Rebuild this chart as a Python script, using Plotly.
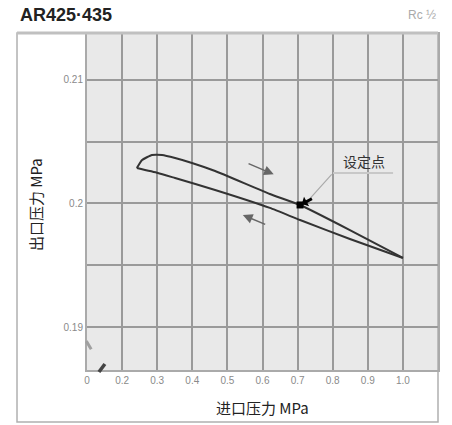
import plotly.graph_objects as go

# ---- data ----
upper_x = [0.242, 0.257, 0.285, 0.314, 0.351, 0.399, 0.465, 0.621, 0.707, 0.849, 1.0]
upper_y = [0.20287, 0.20352, 0.20393, 0.20393, 0.20368, 0.20328, 0.20263, 0.20077, 0.19988, 0.19785, 0.19559]
lower_x = [0.242, 0.302, 0.351, 0.465, 0.621, 0.707, 0.849, 1.0]
lower_y = [0.20287, 0.20247, 0.20206, 0.20109, 0.19964, 0.19866, 0.19713, 0.19559]
set_point = (0.707, 0.19988)

x_tickvals = [0.1, 0.2, 0.3, 0.4, 0.5, 0.6, 0.7, 0.8, 0.9, 1.0]
x_ticktext = ["0", "0.2", "0.3", "0.4", "0.5", "0.6", "0.7", "0.8", "0.9", "1.0"]
y_tickvals = [0.19, 0.195, 0.2, 0.205, 0.21]
y_ticktext = ["0.19", "", "0.2", "", "0.21"]

title_text = "AR425·435"
port_text = "Rc ½"
x_title = "进口压力 MPa"
y_title = "出口压力 MPa"
set_label = "设定点"

CJK = "Noto Sans CJK SC"
LINE = "#333333"
GRID = "#9a9a9a"

fig = go.Figure()
fig.add_trace(go.Scatter(x=upper_x, y=upper_y, mode="lines",
                         line=dict(color=LINE, width=2, shape="spline", smoothing=0.4),
                         hoverinfo="skip", showlegend=False))
fig.add_trace(go.Scatter(x=lower_x, y=lower_y, mode="lines",
                         line=dict(color=LINE, width=2, shape="spline", smoothing=0.4),
                         hoverinfo="skip", showlegend=False))
fig.add_trace(go.Scatter(x=[set_point[0]], y=[set_point[1]], mode="markers",
                         marker=dict(color="#000", size=7, symbol="square"),
                         hoverinfo="skip", showlegend=False))

ann = []
# set point label & leader
ann.append(dict(x=0.889, y=0.20344, xref="x", yref="y", text=set_label, showarrow=False,
                font=dict(family=CJK, size=14, color="#333")))
ann.append(dict(x=0.735, y=0.2004, ax=0.801, ay=0.20247, xref="x", yref="y", axref="x", ayref="y",
                text="", showarrow=True, arrowhead=0, arrowwidth=1.2, arrowcolor="#aaaaaa"))
ann.append(dict(x=0.712, y=0.19995, ax=0.745, ay=0.20045, xref="x", yref="y", axref="x", ayref="y",
                text="", showarrow=True, arrowhead=1, arrowsize=0.6, arrowwidth=3, arrowcolor="#000"))
# direction arrows
ann.append(dict(x=0.632, y=0.20236, ax=0.556, ay=0.20328, xref="x", yref="y", axref="x", ayref="y",
                text="", showarrow=True, arrowhead=2, arrowsize=1.3, arrowwidth=1.5, arrowcolor="#666666"))
ann.append(dict(x=0.544, y=0.19907, ax=0.612, ay=0.19826, xref="x", yref="y", axref="x", ayref="y",
                text="", showarrow=True, arrowhead=2, arrowsize=1.3, arrowwidth=1.5, arrowcolor="#666666"))
# titles
ann.append(dict(x=-0.1966, y=1.058, xref="paper", yref="paper", xanchor="left", yanchor="middle",
                text="<b>%s</b>" % title_text, showarrow=False,
                font=dict(family="Liberation Sans", size=18, color="#222")))
ann.append(dict(x=1.0, y=1.058, xref="paper", yref="paper", xanchor="right", yanchor="middle",
                text=port_text, showarrow=False,
                font=dict(family="Liberation Sans", size=12, color="#aaaaaa")))
ann.append(dict(x=0.4986, y=-0.113, xref="paper", yref="paper", xanchor="center", yanchor="middle",
                text=x_title, showarrow=False, font=dict(family=CJK, size=15, color="#222")))
ann.append(dict(x=-0.148, y=0.491, xref="paper", yref="paper", xanchor="center", yanchor="middle",
                text=y_title, textangle=-90, showarrow=False, font=dict(family=CJK, size=15, color="#222")))

shapes = [
    # outer frame
    dict(type="rect", xref="paper", yref="paper", x0=-0.1994, x1=1.0, y0=-0.155, y1=1.003,
         line=dict(color="#b0b0b0", width=1.5), layer="below"),
    dict(type="line", xref="paper", yref="paper", x0=-0.1994, x1=1.0, y0=1.003, y1=1.003,
         line=dict(color="#c0c0c0", width=3)),
    # set point underline
    dict(type="line", xref="x", yref="y", x0=0.801, x1=0.972, y0=0.20247, y1=0.20247,
         line=dict(color="#c8c8c8", width=2)),
    # axis break marks
    dict(type="line", xref="paper", yref="paper", x0=-0.002, y0=0.086, x1=0.012, y1=0.062,
         line=dict(color="#a0a0a0", width=3)),
    dict(type="line", xref="paper", yref="paper", x0=0.034, y0=-0.006, x1=0.051, y1=0.018,
         line=dict(color="#444444", width=3.5)),
]

fig.update_layout(
    width=452, height=425,
    margin=dict(l=87, r=14, t=34, b=55),
    paper_bgcolor="white", plot_bgcolor="#e9e9e9",
    annotations=ann, shapes=shapes, showlegend=False,
    xaxis=dict(range=[0.1, 1.1], tickvals=x_tickvals, ticktext=x_ticktext,
               showgrid=True, gridcolor=GRID, gridwidth=2, zeroline=False,
               showline=True, linecolor="#aaaaaa", linewidth=2, mirror=True,
               ticks="", tickfont=dict(family="Liberation Sans", size=10, color="#8a8a8a"),
               fixedrange=True),
    yaxis=dict(range=[0.18652, 0.21372], tickvals=y_tickvals, ticktext=y_ticktext,
               showgrid=True, gridcolor=GRID, gridwidth=2, zeroline=False,
               showline=True, linecolor="#aaaaaa", linewidth=2, mirror=True,
               ticks="", tickfont=dict(family="Liberation Sans", size=10, color="#8a8a8a"),
               fixedrange=True),
)

fig.write_html("out.html", config={"displayModeBar": False},
               post_script="document.body.style.margin='0';document.body.style.overflow='hidden';")
